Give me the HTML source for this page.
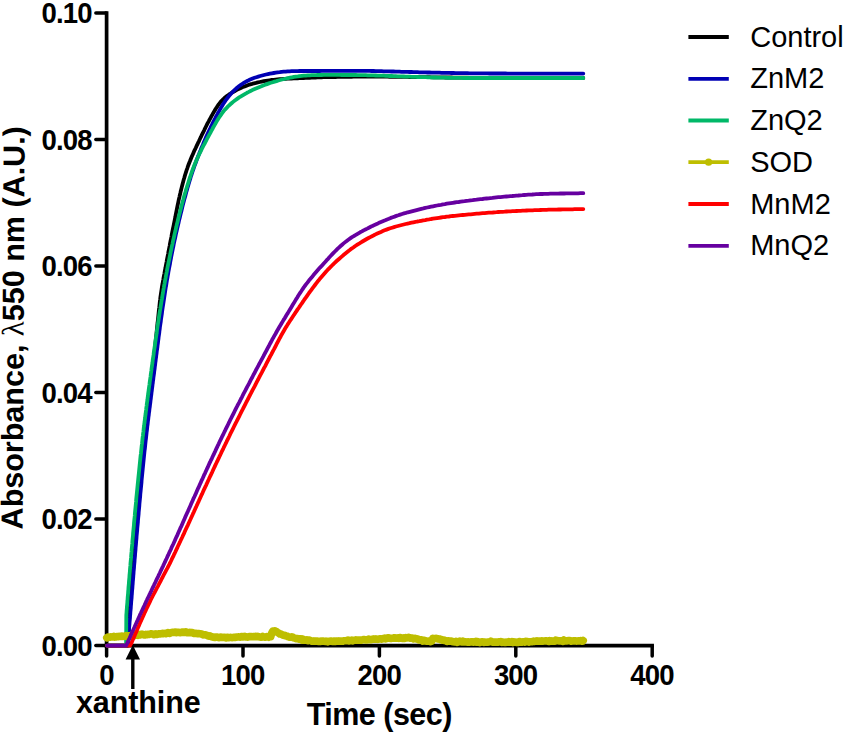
<!DOCTYPE html>
<html lang="en">
<head>
<meta charset="utf-8">
<title>Absorbance vs Time</title>
<style>
html,body{margin:0;padding:0;background:#ffffff;}
body{width:845px;height:732px;overflow:hidden;}
svg{display:block;}
</style>
</head>
<body>
<svg width="845" height="732" viewBox="0 0 845 732">
<rect x="0" y="0" width="845" height="732" fill="#ffffff"/>
<g stroke="#000" fill="none">
<path d="M106.60,11.25 L106.60,647.45" stroke-width="3.70"/>
<path d="M104.75,645.60 L653.95,645.60" stroke-width="3.70"/>
<g stroke-width="3.50" stroke-linecap="round">
<path d="M95.85,645.60 L106.10,645.60"/>
<path d="M95.85,519.08 L106.10,519.08"/>
<path d="M95.85,392.56 L106.10,392.56"/>
<path d="M95.85,266.04 L106.10,266.04"/>
<path d="M95.85,139.52 L106.10,139.52"/>
<path d="M95.85,13.00 L106.10,13.00"/>
<path d="M106.60,646.10 L106.60,655.95"/>
<path d="M243.00,646.10 L243.00,655.95"/>
<path d="M379.40,646.10 L379.40,655.95"/>
<path d="M515.80,646.10 L515.80,655.95"/>
<path d="M652.20,646.10 L652.20,655.95"/>
</g>
</g>
<path d="M107.1,645.6 L128.0,645.6 L128.1,643.6 L128.1,641.6 L128.2,639.6 L128.3,637.6 L128.4,635.6 L128.4,633.6 L128.5,631.6 L128.6,629.6 L128.6,627.6 L128.7,625.6 L128.8,623.6 L128.9,621.6 L129.0,619.6 L129.0,617.6 L129.1,615.6 L129.2,613.6 L129.3,611.6 L129.4,609.6 L129.5,607.6 L129.6,605.6 L129.7,603.6 L129.8,601.6 L129.9,599.6 L130.0,597.6 L130.1,595.6 L130.2,593.7 L130.3,591.7 L130.4,589.7 L130.5,587.7 L130.6,585.7 L130.8,583.7 L130.9,581.7 L131.0,579.7 L131.2,577.7 L131.3,575.7 L131.4,573.7 L131.6,571.7 L131.7,569.7 L131.9,567.7 L132.0,565.7 L132.2,563.7 L132.3,561.7 L132.5,559.7 L132.6,557.7 L132.8,555.8 L133.0,553.8 L133.1,551.8 L133.3,549.8 L133.5,547.8 L133.6,545.8 L133.8,543.8 L134.0,541.8 L134.2,539.8 L134.3,537.8 L134.5,535.8 L134.7,533.8 L134.9,531.8 L135.1,529.9 L135.2,527.9 L135.4,525.9 L135.6,523.9 L135.8,521.9 L136.0,519.9 L136.2,517.9 L136.4,515.9 L136.5,513.9 L136.7,511.9 L136.9,509.9 L137.1,507.9 L137.3,506.0 L137.5,504.0 L137.7,502.0 L137.9,500.0 L138.1,498.0 L138.2,496.0 L138.4,494.0 L138.6,492.0 L138.8,490.0 L139.0,488.0 L139.2,486.1 L139.4,484.1 L139.6,482.1 L139.8,480.1 L140.0,478.1 L140.2,476.1 L140.4,474.1 L140.6,472.1 L140.8,470.1 L141.0,468.1 L141.2,466.2 L141.4,464.2 L141.6,462.2 L141.9,460.2 L142.1,458.2 L142.3,456.2 L142.5,454.2 L142.7,452.2 L143.0,450.2 L143.2,448.3 L143.4,446.3 L143.6,444.3 L143.9,442.3 L144.1,440.3 L144.3,438.3 L144.6,436.3 L144.8,434.4 L145.0,432.4 L145.3,430.4 L145.5,428.4 L145.8,426.4 L146.0,424.4 L146.3,422.4 L146.5,420.5 L146.8,418.5 L147.0,416.5 L147.3,414.5 L147.5,412.5 L147.8,410.5 L148.0,408.6 L148.3,406.6 L148.5,404.6 L148.8,402.6 L149.0,400.6 L149.3,398.6 L149.5,396.7 L149.8,394.7 L150.0,392.7 L150.2,390.7 L150.5,388.7 L150.7,386.7 L151.0,384.7 L151.2,382.8 L151.4,380.8 L151.7,378.8 L151.9,376.8 L152.1,374.8 L152.3,372.8 L152.6,370.8 L152.8,368.9 L153.0,366.9 L153.2,364.9 L153.4,362.9 L153.6,360.9 L153.9,358.9 L154.1,356.9 L154.3,354.9 L154.5,352.9 L154.7,351.0 L154.9,349.0 L155.1,347.0 L155.3,345.0 L155.5,343.0 L155.7,341.0 L155.9,339.0 L156.1,337.0 L156.3,335.0 L156.5,333.1 L156.7,331.1 L156.9,329.1 L157.1,327.1 L157.3,325.1 L157.5,323.1 L157.8,321.1 L158.0,319.1 L158.2,317.1 L158.4,315.2 L158.6,313.2 L158.8,311.2 L159.0,309.2 L159.3,307.2 L159.5,305.2 L159.7,303.2 L159.9,301.3 L160.2,299.3 L160.4,297.3 L160.7,295.3 L161.0,293.3 L161.3,291.4 L161.6,289.4 L161.9,287.4 L162.2,285.4 L162.6,283.5 L162.9,281.5 L163.3,279.5 L163.6,277.6 L164.0,275.6 L164.4,273.6 L164.7,271.7 L165.1,269.7 L165.5,267.7 L165.8,265.8 L166.2,263.8 L166.6,261.8 L166.9,259.9 L167.3,257.9 L167.7,256.0 L168.1,254.0 L168.4,252.0 L168.8,250.1 L169.2,248.1 L169.6,246.1 L169.9,244.2 L170.3,242.2 L170.7,240.2 L171.1,238.3 L171.5,236.3 L171.8,234.4 L172.2,232.4 L172.6,230.4 L173.0,228.5 L173.4,226.5 L173.8,224.6 L174.2,222.6 L174.6,220.6 L175.0,218.7 L175.4,216.7 L175.7,214.8 L176.1,212.8 L176.5,210.8 L176.9,208.9 L177.3,206.9 L177.7,205.0 L178.1,203.0 L178.5,201.0 L178.9,199.1 L179.4,197.1 L179.8,195.2 L180.3,193.2 L180.7,191.3 L181.2,189.4 L181.7,187.4 L182.2,185.5 L182.7,183.6 L183.2,181.6 L183.7,179.7 L184.3,177.8 L184.8,175.9 L185.4,174.0 L186.0,172.1 L186.6,170.2 L187.3,168.3 L187.9,166.4 L188.6,164.5 L189.3,162.7 L190.1,160.8 L190.8,159.0 L191.6,157.1 L192.4,155.3 L193.2,153.5 L194.0,151.6 L194.8,149.8 L195.7,148.0 L196.5,146.2 L197.4,144.4 L198.2,142.6 L199.1,140.8 L199.9,139.0 L200.8,137.2 L201.6,135.4 L202.5,133.6 L203.4,131.8 L204.3,130.1 L205.1,128.3 L206.0,126.5 L206.9,124.7 L207.8,122.9 L208.8,121.2 L209.7,119.4 L210.7,117.6 L211.6,115.9 L212.6,114.2 L213.6,112.4 L214.6,110.7 L215.6,109.0 L216.7,107.4 L217.8,105.7 L218.9,104.1 L220.1,102.6 L221.4,101.1 L222.7,99.7 L224.2,98.3 L225.7,97.0 L227.2,95.8 L228.8,94.7 L230.5,93.6 L232.1,92.5 L233.9,91.5 L235.6,90.5 L237.3,89.6 L239.1,88.7 L240.9,87.9 L242.8,87.1 L244.6,86.4 L246.5,85.7 L248.3,85.0 L250.2,84.4 L252.1,83.9 L254.1,83.3 L256.0,82.9 L257.9,82.4 L259.9,82.0 L261.8,81.6 L263.8,81.2 L265.8,80.9 L267.7,80.6 L269.7,80.3 L271.7,80.0 L273.7,79.8 L275.6,79.6 L277.6,79.4 L279.6,79.2 L281.6,79.1 L283.6,78.9 L285.6,78.8 L287.6,78.7 L289.6,78.6 L291.6,78.5 L293.6,78.4 L295.6,78.3 L297.6,78.3 L299.6,78.2 L301.6,78.1 L303.6,78.0 L305.6,77.9 L307.6,77.8 L309.6,77.8 L311.6,77.7 L313.6,77.6 L315.5,77.5 L317.5,77.4 L319.5,77.4 L321.5,77.3 L323.5,77.2 L325.5,77.2 L327.5,77.1 L329.5,77.1 L331.5,77.0 L333.5,77.0 L335.5,77.0 L337.5,76.9 L339.5,76.9 L341.5,76.9 L343.5,76.8 L345.5,76.8 L347.5,76.8 L349.5,76.8 L351.5,76.8 L353.5,76.7 L355.5,76.7 L357.5,76.7 L359.5,76.7 L361.5,76.7 L363.5,76.7 L365.5,76.7 L367.5,76.7 L369.5,76.7 L371.5,76.7 L373.5,76.7 L375.5,76.7 L377.5,76.7 L379.5,76.7 L381.5,76.7 L383.5,76.7 L385.5,76.7 L387.5,76.7 L389.5,76.8 L391.5,76.8 L393.5,76.8 L395.5,76.8 L397.5,76.8 L399.5,76.8 L401.5,76.9 L403.5,76.9 L405.5,76.9 L407.5,76.9 L409.5,77.0 L411.5,77.0 L413.5,77.0 L415.5,77.0 L417.5,77.1 L419.5,77.1 L421.5,77.1 L423.5,77.1 L425.5,77.2 L427.5,77.2 L429.5,77.2 L431.5,77.3 L433.5,77.3 L435.5,77.3 L437.5,77.3 L439.5,77.4 L441.5,77.4 L443.5,77.4 L445.5,77.5 L447.5,77.5 L449.5,77.5 L451.5,77.5 L453.5,77.6 L455.5,77.6 L457.5,77.6 L459.5,77.7 L461.5,77.7 L463.5,77.7 L465.5,77.7 L467.5,77.7 L469.5,77.8 L471.5,77.8 L473.5,77.8 L475.5,77.8 L477.5,77.8 L479.5,77.8 L481.5,77.9 L483.5,77.9 L485.5,77.9 L487.5,77.9 L489.5,77.9 L491.5,77.9 L493.5,77.9 L495.5,77.9 L497.5,77.9 L499.5,77.9 L501.5,77.9 L503.5,78.0 L505.5,78.0 L507.5,78.0 L509.5,78.0 L511.5,78.0 L513.5,78.0 L515.5,78.0 L517.5,78.0 L519.5,78.0 L521.5,78.0 L523.5,78.0 L525.5,78.0 L527.5,78.0 L529.5,78.0 L531.5,78.0 L533.5,78.0 L535.5,78.0 L537.5,78.0 L539.5,78.0 L541.5,78.0 L543.5,78.0 L545.5,78.0 L547.5,78.0 L549.5,78.0 L551.5,78.0 L553.5,78.0 L555.5,78.0 L557.5,78.0 L559.5,78.0 L561.5,78.0 L563.5,78.0 L565.5,78.0 L567.5,78.0 L569.5,78.0 L571.5,78.0 L573.5,78.0 L575.5,78.0 L577.5,78.0 L579.5,78.0 L581.5,78.0 L583.3,78.0" fill="none" stroke="#000000" stroke-width="3.8" stroke-linejoin="round" stroke-linecap="round"/>
<path d="M107.1,645.6 L127.6,645.6 L127.8,643.6 L127.9,641.6 L128.1,639.6 L128.3,637.6 L128.5,635.6 L128.6,633.6 L128.8,631.7 L129.0,629.7 L129.1,627.7 L129.3,625.7 L129.5,623.7 L129.6,621.7 L129.8,619.7 L130.0,617.7 L130.1,615.7 L130.3,613.7 L130.4,611.7 L130.6,609.7 L130.8,607.7 L130.9,605.7 L131.1,603.8 L131.2,601.8 L131.4,599.8 L131.6,597.8 L131.7,595.8 L131.9,593.8 L132.0,591.8 L132.2,589.8 L132.4,587.8 L132.5,585.8 L132.7,583.8 L132.8,581.8 L133.0,579.8 L133.2,577.8 L133.3,575.8 L133.5,573.8 L133.6,571.9 L133.8,569.9 L134.0,567.9 L134.1,565.9 L134.3,563.9 L134.5,561.9 L134.6,559.9 L134.8,557.9 L135.0,555.9 L135.1,553.9 L135.3,551.9 L135.5,549.9 L135.6,547.9 L135.8,545.9 L136.0,543.9 L136.1,542.0 L136.3,540.0 L136.5,538.0 L136.6,536.0 L136.8,534.0 L137.0,532.0 L137.2,530.0 L137.3,528.0 L137.5,526.0 L137.7,524.0 L137.9,522.0 L138.0,520.0 L138.2,518.0 L138.4,516.1 L138.6,514.1 L138.7,512.1 L138.9,510.1 L139.1,508.1 L139.3,506.1 L139.4,504.1 L139.6,502.1 L139.8,500.1 L140.0,498.1 L140.2,496.1 L140.3,494.1 L140.5,492.2 L140.7,490.2 L140.9,488.2 L141.1,486.2 L141.3,484.2 L141.5,482.2 L141.6,480.2 L141.8,478.2 L142.0,476.2 L142.2,474.2 L142.4,472.2 L142.6,470.3 L142.8,468.3 L143.0,466.3 L143.2,464.3 L143.4,462.3 L143.6,460.3 L143.8,458.3 L144.0,456.3 L144.2,454.3 L144.4,452.3 L144.6,450.4 L144.9,448.4 L145.1,446.4 L145.3,444.4 L145.5,442.4 L145.7,440.4 L146.0,438.4 L146.2,436.4 L146.4,434.5 L146.6,432.5 L146.9,430.5 L147.1,428.5 L147.3,426.5 L147.6,424.5 L147.8,422.5 L148.0,420.6 L148.3,418.6 L148.5,416.6 L148.8,414.6 L149.0,412.6 L149.3,410.6 L149.5,408.6 L149.8,406.7 L150.0,404.7 L150.3,402.7 L150.5,400.7 L150.8,398.7 L151.0,396.7 L151.3,394.8 L151.5,392.8 L151.8,390.8 L152.0,388.8 L152.3,386.8 L152.5,384.8 L152.8,382.9 L153.0,380.9 L153.3,378.9 L153.5,376.9 L153.8,374.9 L154.1,372.9 L154.3,370.9 L154.6,369.0 L154.8,367.0 L155.1,365.0 L155.3,363.0 L155.6,361.0 L155.8,359.0 L156.1,357.1 L156.3,355.1 L156.6,353.1 L156.8,351.1 L157.1,349.1 L157.4,347.1 L157.6,345.2 L157.9,343.2 L158.1,341.2 L158.4,339.2 L158.6,337.2 L158.9,335.2 L159.2,333.3 L159.4,331.3 L159.7,329.3 L159.9,327.3 L160.2,325.3 L160.5,323.3 L160.8,321.4 L161.0,319.4 L161.3,317.4 L161.6,315.4 L161.9,313.4 L162.1,311.5 L162.4,309.5 L162.7,307.5 L163.0,305.5 L163.3,303.6 L163.6,301.6 L163.9,299.6 L164.2,297.6 L164.5,295.6 L164.8,293.7 L165.1,291.7 L165.4,289.7 L165.7,287.7 L166.1,285.8 L166.4,283.8 L166.7,281.8 L167.0,279.9 L167.4,277.9 L167.7,275.9 L168.1,273.9 L168.4,272.0 L168.8,270.0 L169.1,268.0 L169.5,266.1 L169.9,264.1 L170.2,262.1 L170.6,260.2 L171.0,258.2 L171.3,256.3 L171.7,254.3 L172.1,252.3 L172.5,250.4 L172.9,248.4 L173.3,246.5 L173.7,244.5 L174.1,242.5 L174.5,240.6 L175.0,238.6 L175.4,236.7 L175.8,234.7 L176.2,232.8 L176.7,230.8 L177.1,228.9 L177.6,226.9 L178.0,225.0 L178.5,223.0 L178.9,221.1 L179.4,219.1 L179.9,217.2 L180.3,215.3 L180.8,213.3 L181.3,211.4 L181.8,209.4 L182.2,207.5 L182.7,205.6 L183.2,203.6 L183.7,201.7 L184.2,199.8 L184.8,197.8 L185.3,195.9 L185.8,194.0 L186.3,192.0 L186.9,190.1 L187.4,188.2 L188.0,186.3 L188.5,184.4 L189.1,182.4 L189.7,180.5 L190.3,178.6 L190.8,176.7 L191.5,174.8 L192.1,172.9 L192.7,171.0 L193.4,169.1 L194.0,167.2 L194.7,165.4 L195.4,163.5 L196.1,161.6 L196.8,159.7 L197.5,157.9 L198.2,156.0 L199.0,154.2 L199.7,152.3 L200.5,150.5 L201.2,148.6 L202.0,146.8 L202.8,144.9 L203.5,143.1 L204.3,141.3 L205.1,139.4 L205.9,137.6 L206.7,135.8 L207.5,134.0 L208.4,132.2 L209.2,130.4 L210.1,128.6 L210.9,126.8 L211.8,125.0 L212.7,123.2 L213.6,121.4 L214.5,119.6 L215.4,117.9 L216.3,116.1 L217.3,114.4 L218.2,112.6 L219.2,110.9 L220.2,109.1 L221.2,107.4 L222.2,105.7 L223.2,104.0 L224.3,102.4 L225.4,100.7 L226.6,99.1 L227.8,97.5 L229.0,96.0 L230.3,94.5 L231.6,93.0 L233.0,91.6 L234.4,90.2 L235.9,88.8 L237.4,87.5 L238.9,86.3 L240.5,85.1 L242.1,84.0 L243.8,82.9 L245.5,81.9 L247.2,81.0 L249.0,80.1 L250.8,79.3 L252.6,78.5 L254.5,77.8 L256.4,77.2 L258.3,76.6 L260.2,76.0 L262.1,75.5 L264.0,75.0 L266.0,74.5 L267.9,74.1 L269.9,73.7 L271.8,73.3 L273.8,73.0 L275.8,72.7 L277.7,72.4 L279.7,72.2 L281.7,71.9 L283.7,71.7 L285.7,71.6 L287.6,71.4 L289.6,71.3 L291.6,71.2 L293.6,71.1 L295.6,71.1 L297.6,71.1 L299.6,71.0 L301.6,71.0 L303.6,71.0 L305.6,71.0 L307.6,71.0 L309.6,71.0 L311.6,71.0 L313.6,71.0 L315.6,71.0 L317.6,71.0 L319.6,71.0 L321.6,70.9 L323.6,70.9 L325.6,70.9 L327.6,70.9 L329.6,70.8 L331.6,70.8 L333.6,70.8 L335.6,70.8 L337.6,70.8 L339.6,70.8 L341.6,70.8 L343.6,70.8 L345.6,70.8 L347.6,70.8 L349.6,70.8 L351.6,70.8 L353.6,70.8 L355.6,70.8 L357.6,70.8 L359.6,70.8 L361.6,70.8 L363.6,70.8 L365.6,70.9 L367.6,70.9 L369.6,70.9 L371.6,71.0 L373.6,71.0 L375.6,71.1 L377.6,71.1 L379.6,71.2 L381.6,71.2 L383.6,71.3 L385.6,71.3 L387.5,71.4 L389.5,71.4 L391.5,71.5 L393.5,71.5 L395.5,71.6 L397.5,71.6 L399.5,71.7 L401.5,71.8 L403.5,71.8 L405.5,71.9 L407.5,71.9 L409.5,72.0 L411.5,72.0 L413.5,72.1 L415.5,72.1 L417.5,72.2 L419.5,72.3 L421.5,72.3 L423.5,72.4 L425.5,72.4 L427.5,72.5 L429.5,72.5 L431.5,72.6 L433.5,72.6 L435.5,72.7 L437.5,72.7 L439.5,72.7 L441.5,72.8 L443.5,72.8 L445.5,72.9 L447.5,72.9 L449.5,72.9 L451.5,73.0 L453.5,73.0 L455.5,73.1 L457.5,73.1 L459.5,73.1 L461.5,73.2 L463.5,73.2 L465.5,73.2 L467.5,73.2 L469.5,73.3 L471.5,73.3 L473.5,73.3 L475.5,73.3 L477.5,73.4 L479.5,73.4 L481.5,73.4 L483.5,73.4 L485.5,73.4 L487.5,73.4 L489.5,73.5 L491.5,73.5 L493.5,73.5 L495.5,73.5 L497.5,73.5 L499.5,73.5 L501.5,73.5 L503.5,73.5 L505.5,73.5 L507.5,73.6 L509.5,73.6 L511.5,73.6 L513.5,73.6 L515.5,73.6 L517.5,73.6 L519.5,73.6 L521.5,73.6 L523.5,73.6 L525.5,73.6 L527.5,73.6 L529.5,73.6 L531.5,73.6 L533.5,73.6 L535.5,73.6 L537.5,73.6 L539.5,73.6 L541.5,73.6 L543.5,73.6 L545.5,73.6 L547.5,73.6 L549.5,73.6 L551.5,73.6 L553.5,73.6 L555.5,73.6 L557.5,73.6 L559.5,73.6 L561.5,73.6 L563.5,73.6 L565.5,73.6 L567.5,73.6 L569.5,73.6 L571.5,73.6 L573.5,73.6 L575.5,73.6 L577.5,73.6 L579.5,73.6 L581.5,73.6 L583.3,73.6" fill="none" stroke="#0000b4" stroke-width="3.8" stroke-linejoin="round" stroke-linecap="round"/>
<path d="M107.1,645.6 L126.1,645.6 L126.3,615.0 L126.5,613.0 L126.6,611.0 L126.8,609.0 L126.9,607.0 L127.1,605.0 L127.3,603.0 L127.4,601.0 L127.6,599.1 L127.7,597.1 L127.9,595.1 L128.1,593.1 L128.2,591.1 L128.4,589.1 L128.5,587.1 L128.7,585.1 L128.9,583.1 L129.0,581.1 L129.2,579.1 L129.4,577.1 L129.5,575.1 L129.7,573.1 L129.9,571.1 L130.0,569.2 L130.2,567.2 L130.4,565.2 L130.5,563.2 L130.7,561.2 L130.9,559.2 L131.1,557.2 L131.2,555.2 L131.4,553.2 L131.6,551.2 L131.7,549.2 L131.9,547.2 L132.1,545.2 L132.3,543.2 L132.4,541.3 L132.6,539.3 L132.8,537.3 L133.0,535.3 L133.1,533.3 L133.3,531.3 L133.5,529.3 L133.7,527.3 L133.9,525.3 L134.0,523.3 L134.2,521.3 L134.4,519.3 L134.6,517.4 L134.8,515.4 L134.9,513.4 L135.1,511.4 L135.3,509.4 L135.5,507.4 L135.7,505.4 L135.9,503.4 L136.1,501.4 L136.2,499.4 L136.4,497.4 L136.6,495.4 L136.8,493.5 L137.0,491.5 L137.2,489.5 L137.4,487.5 L137.6,485.5 L137.8,483.5 L138.0,481.5 L138.2,479.5 L138.4,477.5 L138.6,475.5 L138.8,473.6 L139.0,471.6 L139.2,469.6 L139.4,467.6 L139.6,465.6 L139.8,463.6 L140.0,461.6 L140.2,459.6 L140.4,457.6 L140.6,455.7 L140.9,453.7 L141.1,451.7 L141.3,449.7 L141.5,447.7 L141.7,445.7 L142.0,443.7 L142.2,441.7 L142.4,439.8 L142.6,437.8 L142.9,435.8 L143.1,433.8 L143.4,431.8 L143.6,429.8 L143.8,427.8 L144.1,425.9 L144.3,423.9 L144.6,421.9 L144.8,419.9 L145.1,417.9 L145.3,415.9 L145.6,413.9 L145.8,412.0 L146.1,410.0 L146.3,408.0 L146.6,406.0 L146.8,404.0 L147.1,402.0 L147.4,400.1 L147.6,398.1 L147.9,396.1 L148.1,394.1 L148.4,392.1 L148.7,390.1 L148.9,388.2 L149.2,386.2 L149.5,384.2 L149.7,382.2 L150.0,380.2 L150.3,378.3 L150.6,376.3 L150.8,374.3 L151.1,372.3 L151.4,370.3 L151.6,368.3 L151.9,366.4 L152.2,364.4 L152.5,362.4 L152.7,360.4 L153.0,358.4 L153.3,356.5 L153.6,354.5 L153.8,352.5 L154.1,350.5 L154.4,348.5 L154.7,346.6 L155.0,344.6 L155.2,342.6 L155.5,340.6 L155.8,338.6 L156.1,336.7 L156.4,334.7 L156.7,332.7 L156.9,330.7 L157.2,328.7 L157.5,326.8 L157.8,324.8 L158.1,322.8 L158.4,320.8 L158.7,318.9 L159.0,316.9 L159.3,314.9 L159.6,312.9 L159.9,311.0 L160.3,309.0 L160.6,307.0 L160.9,305.0 L161.2,303.1 L161.5,301.1 L161.9,299.1 L162.2,297.1 L162.5,295.2 L162.9,293.2 L163.2,291.2 L163.5,289.3 L163.9,287.3 L164.2,285.3 L164.6,283.3 L164.9,281.4 L165.3,279.4 L165.7,277.4 L166.0,275.5 L166.4,273.5 L166.8,271.6 L167.1,269.6 L167.5,267.6 L167.9,265.7 L168.3,263.7 L168.7,261.7 L169.1,259.8 L169.5,257.8 L169.9,255.9 L170.3,253.9 L170.7,251.9 L171.1,250.0 L171.5,248.0 L171.9,246.1 L172.4,244.1 L172.8,242.2 L173.2,240.2 L173.7,238.3 L174.1,236.3 L174.5,234.4 L175.0,232.4 L175.5,230.5 L175.9,228.5 L176.4,226.6 L176.8,224.6 L177.3,222.7 L177.8,220.8 L178.2,218.8 L178.7,216.9 L179.2,214.9 L179.7,213.0 L180.2,211.1 L180.7,209.1 L181.2,207.2 L181.7,205.3 L182.2,203.3 L182.7,201.4 L183.3,199.5 L183.8,197.6 L184.3,195.6 L184.9,193.7 L185.5,191.8 L186.0,189.9 L186.6,188.0 L187.2,186.1 L187.8,184.2 L188.4,182.2 L189.0,180.3 L189.6,178.4 L190.2,176.6 L190.9,174.7 L191.5,172.8 L192.2,170.9 L192.9,169.0 L193.6,167.2 L194.3,165.3 L195.1,163.5 L195.9,161.6 L196.7,159.8 L197.5,158.0 L198.3,156.2 L199.2,154.3 L200.0,152.6 L200.9,150.8 L201.8,149.0 L202.7,147.2 L203.6,145.4 L204.6,143.7 L205.5,141.9 L206.4,140.1 L207.3,138.4 L208.3,136.6 L209.2,134.9 L210.2,133.1 L211.1,131.3 L212.1,129.6 L213.0,127.8 L214.0,126.1 L215.0,124.4 L216.0,122.6 L217.0,120.9 L218.0,119.2 L219.1,117.5 L220.2,115.9 L221.3,114.3 L222.5,112.7 L223.7,111.1 L225.0,109.6 L226.4,108.2 L227.7,106.7 L229.2,105.3 L230.6,104.0 L232.1,102.7 L233.7,101.4 L235.2,100.2 L236.8,99.1 L238.5,97.9 L240.1,96.8 L241.8,95.8 L243.5,94.8 L245.2,93.8 L247.0,92.8 L248.8,91.9 L250.5,91.0 L252.3,90.1 L254.1,89.3 L255.9,88.5 L257.8,87.7 L259.6,86.9 L261.4,86.2 L263.3,85.5 L265.1,84.8 L267.0,84.1 L268.9,83.4 L270.8,82.8 L272.7,82.2 L274.6,81.6 L276.5,81.1 L278.4,80.5 L280.3,80.0 L282.2,79.5 L284.2,79.0 L286.1,78.5 L288.1,78.1 L290.0,77.7 L292.0,77.3 L293.9,76.9 L295.9,76.6 L297.9,76.4 L299.8,76.1 L301.8,75.9 L303.8,75.7 L305.8,75.6 L307.8,75.4 L309.8,75.3 L311.8,75.2 L313.8,75.1 L315.7,75.1 L317.7,75.0 L319.7,75.0 L321.7,75.0 L323.7,74.9 L325.7,74.9 L327.7,74.9 L329.7,74.9 L331.7,74.9 L333.7,74.9 L335.7,74.9 L337.7,74.9 L339.7,74.9 L341.7,75.0 L343.7,75.0 L345.7,75.0 L347.7,75.0 L349.7,75.0 L351.7,75.0 L353.7,75.0 L355.7,75.0 L357.7,75.1 L359.7,75.1 L361.7,75.1 L363.7,75.2 L365.7,75.2 L367.7,75.3 L369.7,75.3 L371.7,75.4 L373.7,75.4 L375.7,75.5 L377.7,75.6 L379.7,75.6 L381.7,75.7 L383.7,75.7 L385.7,75.8 L387.7,75.9 L389.7,76.0 L391.7,76.0 L393.7,76.1 L395.7,76.2 L397.7,76.3 L399.7,76.3 L401.7,76.4 L403.7,76.5 L405.7,76.6 L407.7,76.6 L409.7,76.7 L411.7,76.8 L413.7,76.8 L415.7,76.9 L417.7,77.0 L419.7,77.1 L421.7,77.1 L423.7,77.2 L425.7,77.2 L427.7,77.3 L429.7,77.4 L431.7,77.4 L433.7,77.5 L435.6,77.5 L437.6,77.6 L439.6,77.6 L441.6,77.7 L443.6,77.7 L445.6,77.7 L447.6,77.8 L449.6,77.8 L451.6,77.8 L453.6,77.9 L455.6,77.9 L457.6,77.9 L459.6,77.9 L461.6,77.9 L463.6,78.0 L465.6,78.0 L467.6,78.0 L469.6,78.0 L471.6,78.0 L473.6,78.0 L475.6,78.0 L477.6,78.0 L479.6,78.0 L481.6,78.0 L483.6,78.0 L485.6,78.0 L487.6,78.0 L489.6,78.0 L491.6,78.0 L493.6,78.0 L495.6,78.0 L497.6,78.0 L499.6,78.0 L501.6,78.0 L503.6,78.0 L505.6,78.0 L507.6,78.0 L509.6,78.0 L511.6,78.0 L513.6,78.0 L515.6,78.0 L517.6,78.0 L519.6,78.0 L521.6,78.0 L523.6,78.0 L525.6,78.0 L527.6,78.0 L529.6,78.0 L531.6,78.0 L533.6,78.0 L535.6,78.0 L537.6,78.0 L539.6,78.0 L541.6,78.0 L543.6,78.0 L545.6,78.0 L547.6,78.0 L549.6,78.0 L551.6,78.0 L553.6,78.0 L555.6,78.0 L557.6,78.0 L559.6,78.0 L561.6,78.0 L563.6,78.0 L565.6,78.0 L567.6,78.0 L569.6,78.0 L571.6,78.0 L573.6,78.0 L575.6,78.0 L577.6,78.0 L579.6,78.0 L581.6,78.0 L583.3,78.0" fill="none" stroke="#00b868" stroke-width="3.8" stroke-linejoin="round" stroke-linecap="round"/>
<path d="M106.8,637.8 L107.8,637.1 L108.8,637.2 L109.8,637.3 L110.8,636.9 L111.8,637.0 L112.8,637.0 L113.8,636.4 L114.8,637.1 L115.8,636.9 L116.8,636.5 L117.8,636.6 L118.8,636.7 L119.8,636.4 L120.8,636.4 L121.8,636.0 L122.8,636.5 L123.8,636.3 L124.8,636.2 L125.8,635.7 L126.8,636.5 L127.8,636.0 L128.8,635.8 L129.8,636.4 L130.8,635.7 L131.8,635.2 L132.8,635.4 L133.8,634.8 L134.8,635.6 L135.8,635.1 L136.8,634.9 L137.8,635.3 L138.8,634.5 L139.8,635.0 L140.8,634.2 L141.8,634.5 L142.8,634.3 L143.8,635.0 L144.8,635.0 L145.8,634.4 L146.8,634.7 L147.8,634.3 L148.8,634.5 L149.8,634.1 L150.8,633.8 L151.8,633.7 L152.8,634.3 L153.8,634.7 L154.8,634.1 L155.8,633.9 L156.8,634.5 L157.8,634.0 L158.8,633.9 L159.8,633.9 L160.8,633.7 L161.8,633.6 L162.8,633.2 L163.8,633.6 L164.8,633.4 L165.8,633.7 L166.8,633.1 L167.8,632.6 L168.8,633.0 L169.8,633.4 L170.8,632.7 L171.8,632.5 L172.8,632.3 L173.8,632.2 L174.8,632.4 L175.8,632.1 L176.8,632.7 L177.8,632.2 L178.8,632.3 L179.8,632.6 L180.8,632.6 L181.8,632.1 L182.8,632.3 L183.8,632.5 L184.8,632.2 L185.8,631.8 L186.8,632.6 L187.8,632.7 L188.8,632.7 L189.8,632.4 L190.8,632.7 L191.8,632.6 L192.8,632.8 L193.8,633.4 L194.8,633.5 L195.8,633.4 L196.8,633.5 L197.8,633.7 L198.8,633.6 L199.8,633.7 L200.8,633.7 L201.8,634.1 L202.8,634.9 L203.8,634.8 L204.8,634.7 L205.8,635.0 L206.8,635.2 L207.8,635.8 L208.8,636.1 L209.8,635.8 L210.8,636.6 L211.8,636.5 L212.8,637.2 L213.8,637.0 L214.8,637.5 L215.8,637.0 L216.8,637.1 L217.8,637.3 L218.8,637.6 L219.8,637.5 L220.8,637.0 L221.8,637.5 L222.8,637.5 L223.8,637.4 L224.8,637.3 L225.8,638.0 L226.8,637.4 L227.8,637.2 L228.8,637.6 L229.8,637.5 L230.8,637.4 L231.8,637.6 L232.8,637.5 L233.8,637.4 L234.8,637.5 L235.8,637.3 L236.8,637.0 L237.8,637.0 L238.8,636.9 L239.8,637.1 L240.8,636.7 L241.8,636.5 L242.8,637.0 L243.8,636.6 L244.8,636.4 L245.8,637.0 L246.8,636.7 L247.8,637.1 L248.8,636.8 L249.8,636.6 L250.8,636.5 L251.8,636.7 L252.8,636.8 L253.8,636.6 L254.8,636.8 L255.8,636.4 L256.8,636.8 L257.8,636.3 L258.8,636.8 L259.8,637.0 L260.8,637.1 L261.8,637.3 L262.8,636.4 L263.8,637.0 L264.8,637.1 L265.8,637.1 L266.8,636.5 L267.8,636.9 L268.8,637.3 L269.8,636.4 L270.8,636.6 L271.8,632.8 L272.8,631.0 L273.8,631.2 L274.8,630.8 L275.8,631.2 L276.8,631.8 L277.8,632.7 L278.8,633.2 L279.8,634.0 L280.8,633.9 L281.8,634.5 L282.8,635.1 L283.8,635.4 L284.8,635.2 L285.8,636.0 L286.8,636.0 L287.8,636.5 L288.8,636.8 L289.8,637.3 L290.8,637.2 L291.8,636.9 L292.8,637.2 L293.8,638.0 L294.8,638.0 L295.8,638.6 L296.8,638.5 L297.8,638.5 L298.8,639.2 L299.8,638.8 L300.8,638.7 L301.8,640.0 L302.8,639.1 L303.8,640.0 L304.8,640.3 L305.8,640.2 L306.8,639.8 L307.8,640.7 L308.8,640.1 L309.8,640.3 L310.8,640.7 L311.8,641.1 L312.8,641.1 L313.8,641.3 L314.8,641.1 L315.8,641.2 L316.8,641.0 L317.8,641.2 L318.8,641.5 L319.8,641.2 L320.8,641.4 L321.8,641.1 L322.8,641.1 L323.8,641.3 L324.8,641.2 L325.8,641.5 L326.8,641.3 L327.8,641.8 L328.8,641.2 L329.8,641.2 L330.8,641.0 L331.8,641.3 L332.8,641.5 L333.8,641.0 L334.8,641.2 L335.8,641.4 L336.8,641.1 L337.8,641.0 L338.8,641.3 L339.8,641.1 L340.8,641.1 L341.8,641.3 L342.8,641.2 L343.8,640.8 L344.8,640.7 L345.8,640.8 L346.8,640.7 L347.8,640.1 L348.8,641.0 L349.8,640.6 L350.8,640.7 L351.8,640.1 L352.8,640.8 L353.8,640.2 L354.8,640.3 L355.8,639.8 L356.8,640.1 L357.8,640.1 L358.8,640.0 L359.8,640.1 L360.8,640.0 L361.8,640.2 L362.8,639.7 L363.8,639.5 L364.8,639.7 L365.8,639.9 L366.8,640.0 L367.8,639.8 L368.8,639.0 L369.8,639.6 L370.8,639.8 L371.8,639.4 L372.8,639.1 L373.8,639.3 L374.8,639.0 L375.8,639.3 L376.8,639.1 L377.8,639.4 L378.8,639.1 L379.8,638.7 L380.8,639.0 L381.8,639.1 L382.8,638.6 L383.8,638.6 L384.8,638.0 L385.8,638.8 L386.8,638.3 L387.8,637.9 L388.8,637.9 L389.8,638.3 L390.8,638.5 L391.8,638.2 L392.8,638.3 L393.8,637.8 L394.8,637.7 L395.8,638.3 L396.8,638.1 L397.8,637.9 L398.8,638.3 L399.8,637.6 L400.8,637.8 L401.8,638.2 L402.8,638.4 L403.8,637.8 L404.8,638.3 L405.8,637.6 L406.8,637.9 L407.8,637.8 L408.8,637.4 L409.8,638.0 L410.8,638.3 L411.8,638.1 L412.8,638.3 L413.8,638.9 L414.8,638.4 L415.8,638.5 L416.8,639.0 L417.8,639.1 L418.8,640.0 L419.8,639.9 L420.8,639.7 L421.8,639.9 L422.8,641.1 L423.8,640.3 L424.8,640.5 L425.8,641.0 L426.8,641.2 L427.8,641.3 L428.8,641.1 L429.8,641.1 L430.8,641.7 L431.8,641.2 L432.8,638.4 L433.8,638.8 L434.8,638.6 L435.8,638.4 L436.8,638.5 L437.8,638.9 L438.8,638.9 L439.8,639.1 L440.8,639.8 L441.8,639.6 L442.8,640.3 L443.8,640.0 L444.8,640.5 L445.8,640.7 L446.8,641.4 L447.8,640.8 L448.8,640.8 L449.8,641.1 L450.8,641.0 L451.8,641.2 L452.8,641.6 L453.8,641.7 L454.8,642.0 L455.8,641.4 L456.8,642.4 L457.8,642.3 L458.8,641.7 L459.8,641.1 L460.8,641.8 L461.8,641.9 L462.8,641.2 L463.8,641.9 L464.8,641.9 L465.8,641.7 L466.8,642.1 L467.8,642.3 L468.8,641.9 L469.8,642.1 L470.8,641.8 L471.8,641.8 L472.8,642.0 L473.8,642.2 L474.8,641.9 L475.8,641.4 L476.8,642.2 L477.8,641.6 L478.8,642.1 L479.8,642.6 L480.8,642.1 L481.8,641.7 L482.8,641.7 L483.8,642.4 L484.8,642.1 L485.8,642.2 L486.8,642.3 L487.8,642.1 L488.8,642.0 L489.8,641.8 L490.8,641.2 L491.8,641.7 L492.8,642.1 L493.8,642.0 L494.8,642.2 L495.8,642.1 L496.8,642.1 L497.8,642.3 L498.8,641.9 L499.8,642.0 L500.8,641.6 L501.8,642.4 L502.8,642.1 L503.8,642.2 L504.8,642.5 L505.8,642.4 L506.8,642.1 L507.8,642.3 L508.8,641.7 L509.8,642.2 L510.8,642.1 L511.8,641.6 L512.8,642.5 L513.8,641.9 L514.8,642.3 L515.8,642.0 L516.8,642.4 L517.8,642.4 L518.8,641.8 L519.8,641.6 L520.8,642.0 L521.8,642.3 L522.8,641.9 L523.8,641.9 L524.8,642.2 L525.8,641.3 L526.8,641.8 L527.8,641.6 L528.8,642.1 L529.8,641.8 L530.8,641.7 L531.8,641.8 L532.8,641.3 L533.8,641.5 L534.8,641.2 L535.8,641.1 L536.8,640.9 L537.8,641.3 L538.8,641.0 L539.8,641.1 L540.8,641.1 L541.8,640.7 L542.8,641.1 L543.8,641.0 L544.8,641.0 L545.8,640.8 L546.8,640.8 L547.8,641.1 L548.8,641.5 L549.8,640.7 L550.8,641.1 L551.8,640.8 L552.8,641.1 L553.8,641.0 L554.8,641.2 L555.8,640.1 L556.8,640.7 L557.8,640.6 L558.8,640.9 L559.8,640.7 L560.8,640.7 L561.8,641.1 L562.8,641.4 L563.8,640.1 L564.8,640.8 L565.8,641.0 L566.8,640.9 L567.8,640.8 L568.8,640.5 L569.8,640.6 L570.8,641.1 L571.8,641.2 L572.8,640.9 L573.8,640.7 L574.8,640.9 L575.8,640.8 L576.8,641.1 L577.8,640.9 L578.8,640.7 L579.8,641.0 L580.8,640.6 L581.8,641.1 L582.8,641.2 L583.2,640.6" fill="none" stroke="#bebe00" stroke-width="7.6" stroke-linejoin="round" stroke-linecap="round"/>
<path d="M107.1,645.6 L130.3,645.6 L131.1,643.8 L131.9,641.9 L132.7,640.1 L133.5,638.3 L134.3,636.4 L135.1,634.6 L135.9,632.8 L136.7,630.9 L137.4,629.1 L138.2,627.3 L139.0,625.4 L139.8,623.6 L140.6,621.8 L141.4,619.9 L142.3,618.1 L143.1,616.3 L143.9,614.5 L144.7,612.6 L145.6,610.8 L146.4,609.0 L147.3,607.2 L148.1,605.4 L149.0,603.6 L149.9,601.8 L150.7,600.0 L151.6,598.2 L152.5,596.4 L153.4,594.7 L154.4,592.9 L155.3,591.1 L156.2,589.3 L157.1,587.6 L158.1,585.8 L159.0,584.0 L159.9,582.3 L160.9,580.5 L161.8,578.7 L162.7,577.0 L163.6,575.2 L164.6,573.4 L165.5,571.7 L166.4,569.9 L167.4,568.1 L168.3,566.3 L169.2,564.6 L170.1,562.8 L171.0,561.0 L171.8,559.2 L172.7,557.4 L173.6,555.6 L174.4,553.8 L175.3,552.0 L176.1,550.2 L177.0,548.4 L177.8,546.5 L178.7,544.7 L179.5,542.9 L180.4,541.1 L181.2,539.3 L182.1,537.5 L182.9,535.7 L183.8,533.9 L184.6,532.1 L185.4,530.2 L186.3,528.4 L187.1,526.6 L188.0,524.8 L188.8,523.0 L189.6,521.2 L190.5,519.3 L191.3,517.5 L192.1,515.7 L192.9,513.9 L193.8,512.1 L194.6,510.2 L195.4,508.4 L196.3,506.6 L197.1,504.8 L197.9,503.0 L198.8,501.1 L199.6,499.3 L200.4,497.5 L201.2,495.7 L202.1,493.9 L202.9,492.1 L203.7,490.2 L204.6,488.4 L205.4,486.6 L206.3,484.8 L207.1,483.0 L207.9,481.2 L208.8,479.3 L209.6,477.5 L210.5,475.7 L211.3,473.9 L212.2,472.1 L213.0,470.3 L213.8,468.5 L214.7,466.7 L215.5,464.8 L216.4,463.0 L217.3,461.2 L218.1,459.4 L219.0,457.6 L219.8,455.8 L220.7,454.0 L221.5,452.2 L222.4,450.4 L223.3,448.6 L224.1,446.8 L225.0,445.0 L225.9,443.2 L226.7,441.4 L227.6,439.6 L228.5,437.8 L229.4,436.0 L230.2,434.2 L231.1,432.4 L232.0,430.6 L232.9,428.8 L233.8,427.0 L234.7,425.2 L235.6,423.4 L236.5,421.7 L237.4,419.9 L238.3,418.1 L239.2,416.3 L240.1,414.5 L241.0,412.7 L241.9,410.9 L242.8,409.2 L243.7,407.4 L244.6,405.6 L245.5,403.8 L246.4,402.0 L247.3,400.3 L248.3,398.5 L249.2,396.7 L250.1,394.9 L251.0,393.2 L251.9,391.4 L252.8,389.6 L253.8,387.8 L254.7,386.1 L255.6,384.3 L256.5,382.5 L257.5,380.7 L258.4,379.0 L259.3,377.2 L260.2,375.4 L261.2,373.6 L262.1,371.9 L263.0,370.1 L263.9,368.3 L264.9,366.6 L265.8,364.8 L266.7,363.0 L267.7,361.2 L268.6,359.5 L269.5,357.7 L270.4,355.9 L271.4,354.2 L272.3,352.4 L273.2,350.6 L274.2,348.9 L275.1,347.1 L276.0,345.3 L276.9,343.5 L277.8,341.8 L278.8,340.0 L279.7,338.2 L280.7,336.5 L281.6,334.7 L282.6,333.0 L283.6,331.3 L284.6,329.5 L285.6,327.8 L286.7,326.1 L287.7,324.4 L288.8,322.7 L289.9,321.0 L291.0,319.4 L292.1,317.7 L293.2,316.0 L294.3,314.4 L295.4,312.7 L296.5,311.1 L297.6,309.4 L298.8,307.8 L299.9,306.1 L301.0,304.5 L302.2,302.8 L303.3,301.2 L304.4,299.5 L305.6,297.9 L306.7,296.3 L307.9,294.6 L309.0,293.0 L310.2,291.4 L311.4,289.8 L312.6,288.2 L313.8,286.6 L315.0,285.0 L316.2,283.4 L317.4,281.8 L318.7,280.3 L319.9,278.7 L321.2,277.2 L322.5,275.7 L323.8,274.2 L325.1,272.7 L326.4,271.2 L327.8,269.7 L329.2,268.3 L330.6,266.9 L332.0,265.5 L333.4,264.1 L334.9,262.7 L336.3,261.3 L337.8,260.0 L339.3,258.7 L340.8,257.4 L342.3,256.1 L343.8,254.8 L345.4,253.5 L346.9,252.3 L348.5,251.0 L350.1,249.8 L351.6,248.6 L353.3,247.5 L354.9,246.3 L356.5,245.2 L358.2,244.1 L359.9,243.1 L361.6,242.0 L363.3,241.0 L365.0,240.0 L366.7,239.0 L368.5,238.0 L370.2,237.1 L372.0,236.2 L373.8,235.3 L375.5,234.4 L377.3,233.5 L379.1,232.7 L381.0,231.9 L382.8,231.1 L384.6,230.3 L386.5,229.6 L388.4,228.9 L390.2,228.3 L392.1,227.7 L394.0,227.1 L395.9,226.5 L397.9,226.0 L399.8,225.5 L401.7,225.0 L403.7,224.5 L405.6,224.0 L407.6,223.6 L409.5,223.2 L411.5,222.7 L413.4,222.3 L415.4,221.9 L417.3,221.5 L419.3,221.2 L421.2,220.8 L423.2,220.4 L425.2,220.1 L427.1,219.7 L429.1,219.4 L431.1,219.0 L433.0,218.7 L435.0,218.4 L437.0,218.1 L439.0,217.8 L440.9,217.5 L442.9,217.2 L444.9,217.0 L446.9,216.7 L448.9,216.5 L450.9,216.2 L452.8,216.0 L454.8,215.8 L456.8,215.6 L458.8,215.4 L460.8,215.2 L462.8,215.0 L464.8,214.8 L466.8,214.6 L468.8,214.4 L470.7,214.3 L472.7,214.1 L474.7,213.9 L476.7,213.7 L478.7,213.6 L480.7,213.4 L482.7,213.2 L484.7,213.1 L486.7,212.9 L488.7,212.7 L490.7,212.6 L492.7,212.5 L494.6,212.3 L496.6,212.2 L498.6,212.0 L500.6,211.9 L502.6,211.8 L504.6,211.7 L506.6,211.5 L508.6,211.4 L510.6,211.3 L512.6,211.2 L514.6,211.1 L516.6,211.0 L518.6,210.9 L520.6,210.8 L522.6,210.7 L524.6,210.6 L526.6,210.5 L528.6,210.4 L530.6,210.3 L532.6,210.3 L534.6,210.2 L536.6,210.1 L538.6,210.1 L540.6,210.0 L542.6,209.9 L544.6,209.9 L546.6,209.8 L548.6,209.7 L550.6,209.7 L552.6,209.6 L554.6,209.6 L556.6,209.6 L558.6,209.5 L560.6,209.5 L562.6,209.4 L564.6,209.4 L566.6,209.4 L568.6,209.3 L570.6,209.3 L572.6,209.3 L574.6,209.2 L576.6,209.2 L578.6,209.2 L580.6,209.1 L582.6,209.1 L583.3,209.1" fill="none" stroke="#ff0000" stroke-width="3.8" stroke-linejoin="round" stroke-linecap="round"/>
<path d="M107.1,645.6 L126.2,645.6 L127.0,643.8 L127.8,641.9 L128.6,640.1 L129.5,638.3 L130.3,636.5 L131.1,634.6 L131.9,632.8 L132.7,631.0 L133.5,629.2 L134.4,627.3 L135.2,625.5 L136.0,623.7 L136.8,621.9 L137.7,620.1 L138.5,618.2 L139.3,616.4 L140.1,614.6 L141.0,612.8 L141.8,611.0 L142.7,609.2 L143.5,607.3 L144.4,605.5 L145.2,603.7 L146.0,601.9 L146.9,600.1 L147.7,598.3 L148.6,596.5 L149.5,594.7 L150.3,592.9 L151.2,591.1 L152.0,589.3 L152.9,587.4 L153.8,585.6 L154.6,583.8 L155.5,582.0 L156.3,580.2 L157.2,578.4 L158.1,576.6 L158.9,574.8 L159.8,573.0 L160.6,571.2 L161.5,569.4 L162.3,567.6 L163.2,565.8 L164.0,564.0 L164.9,562.2 L165.7,560.3 L166.6,558.5 L167.4,556.7 L168.3,554.9 L169.1,553.1 L169.9,551.3 L170.8,549.5 L171.6,547.6 L172.4,545.8 L173.3,544.0 L174.1,542.2 L174.9,540.4 L175.7,538.5 L176.6,536.7 L177.4,534.9 L178.2,533.1 L179.0,531.2 L179.8,529.4 L180.6,527.6 L181.5,525.8 L182.3,523.9 L183.1,522.1 L183.9,520.3 L184.7,518.5 L185.5,516.6 L186.3,514.8 L187.1,513.0 L188.0,511.1 L188.8,509.3 L189.6,507.5 L190.4,505.7 L191.2,503.8 L192.0,502.0 L192.8,500.2 L193.6,498.3 L194.5,496.5 L195.3,494.7 L196.1,492.9 L196.9,491.0 L197.7,489.2 L198.6,487.4 L199.4,485.6 L200.2,483.8 L201.0,481.9 L201.8,480.1 L202.7,478.3 L203.5,476.5 L204.3,474.6 L205.2,472.8 L206.0,471.0 L206.8,469.2 L207.7,467.4 L208.5,465.6 L209.3,463.7 L210.2,461.9 L211.0,460.1 L211.9,458.3 L212.7,456.5 L213.6,454.7 L214.4,452.9 L215.3,451.1 L216.1,449.2 L217.0,447.4 L217.8,445.6 L218.7,443.8 L219.5,442.0 L220.4,440.2 L221.3,438.4 L222.1,436.6 L223.0,434.8 L223.9,433.0 L224.8,431.2 L225.6,429.4 L226.5,427.6 L227.4,425.8 L228.3,424.0 L229.2,422.2 L230.0,420.4 L230.9,418.7 L231.8,416.9 L232.7,415.1 L233.6,413.3 L234.5,411.5 L235.4,409.7 L236.3,407.9 L237.2,406.2 L238.1,404.4 L239.1,402.6 L240.0,400.8 L240.9,399.0 L241.8,397.3 L242.7,395.5 L243.6,393.7 L244.6,391.9 L245.5,390.2 L246.4,388.4 L247.3,386.6 L248.3,384.8 L249.2,383.1 L250.1,381.3 L251.0,379.5 L252.0,377.8 L252.9,376.0 L253.8,374.2 L254.8,372.5 L255.7,370.7 L256.6,368.9 L257.6,367.1 L258.5,365.4 L259.4,363.6 L260.4,361.8 L261.3,360.1 L262.3,358.3 L263.2,356.6 L264.1,354.8 L265.1,353.0 L266.0,351.3 L267.0,349.5 L267.9,347.7 L268.9,346.0 L269.8,344.2 L270.7,342.5 L271.7,340.7 L272.6,338.9 L273.6,337.2 L274.6,335.4 L275.6,333.7 L276.5,332.0 L277.5,330.2 L278.5,328.5 L279.5,326.8 L280.6,325.0 L281.6,323.3 L282.6,321.6 L283.6,319.9 L284.7,318.2 L285.7,316.5 L286.7,314.8 L287.8,313.1 L288.8,311.4 L289.8,309.7 L290.9,307.9 L291.9,306.2 L292.9,304.5 L294.0,302.8 L295.0,301.1 L296.0,299.4 L297.1,297.7 L298.1,296.0 L299.2,294.3 L300.3,292.6 L301.4,291.0 L302.5,289.3 L303.6,287.7 L304.8,286.0 L306.0,284.4 L307.2,282.9 L308.4,281.3 L309.6,279.7 L310.9,278.2 L312.2,276.7 L313.5,275.1 L314.8,273.6 L316.1,272.1 L317.4,270.6 L318.7,269.1 L320.0,267.6 L321.4,266.2 L322.7,264.7 L324.0,263.2 L325.4,261.7 L326.7,260.2 L328.1,258.8 L329.4,257.3 L330.8,255.8 L332.1,254.4 L333.5,252.9 L334.9,251.5 L336.3,250.1 L337.7,248.7 L339.2,247.3 L340.6,246.0 L342.1,244.7 L343.6,243.4 L345.2,242.1 L346.7,240.9 L348.3,239.7 L349.9,238.6 L351.6,237.4 L353.3,236.4 L355.0,235.3 L356.7,234.3 L358.4,233.3 L360.1,232.3 L361.9,231.4 L363.6,230.4 L365.4,229.5 L367.2,228.6 L368.9,227.7 L370.7,226.8 L372.5,225.9 L374.3,225.1 L376.1,224.2 L377.9,223.4 L379.7,222.5 L381.6,221.7 L383.4,220.9 L385.2,220.2 L387.1,219.4 L388.9,218.7 L390.8,217.9 L392.7,217.2 L394.5,216.6 L396.4,215.9 L398.3,215.3 L400.2,214.6 L402.1,214.0 L404.0,213.4 L405.9,212.9 L407.8,212.3 L409.8,211.8 L411.7,211.3 L413.6,210.8 L415.6,210.3 L417.5,209.8 L419.4,209.3 L421.4,208.8 L423.3,208.4 L425.3,207.9 L427.2,207.5 L429.2,207.1 L431.1,206.7 L433.1,206.3 L435.0,205.9 L437.0,205.5 L439.0,205.1 L440.9,204.8 L442.9,204.4 L444.9,204.1 L446.8,203.7 L448.8,203.4 L450.8,203.1 L452.8,202.8 L454.7,202.5 L456.7,202.2 L458.7,202.0 L460.7,201.7 L462.7,201.4 L464.6,201.2 L466.6,200.9 L468.6,200.7 L470.6,200.4 L472.6,200.2 L474.5,199.9 L476.5,199.7 L478.5,199.4 L480.5,199.2 L482.5,199.0 L484.5,198.7 L486.5,198.5 L488.4,198.3 L490.4,198.1 L492.4,197.9 L494.4,197.6 L496.4,197.4 L498.4,197.2 L500.4,197.1 L502.4,196.9 L504.4,196.7 L506.3,196.5 L508.3,196.3 L510.3,196.1 L512.3,196.0 L514.3,195.8 L516.3,195.6 L518.3,195.5 L520.3,195.3 L522.3,195.2 L524.3,195.0 L526.3,194.9 L528.3,194.7 L530.2,194.6 L532.2,194.5 L534.2,194.3 L536.2,194.2 L538.2,194.1 L540.2,194.0 L542.2,194.0 L544.2,193.9 L546.2,193.8 L548.2,193.8 L550.2,193.7 L552.2,193.7 L554.2,193.6 L556.2,193.6 L558.2,193.6 L560.2,193.5 L562.2,193.5 L564.2,193.5 L566.2,193.4 L568.2,193.4 L570.2,193.4 L572.2,193.3 L574.2,193.3 L576.2,193.3 L578.2,193.3 L580.2,193.2 L582.2,193.2 L583.3,193.2" fill="none" stroke="#6600a0" stroke-width="3.8" stroke-linejoin="round" stroke-linecap="round"/>
<path d="M132.8,655.0 L132.8,689.0" stroke="#000" stroke-width="3.4" fill="none"/>
<path d="M132.8,645.0 L125.6,659.4 L140.0,659.4 Z" fill="#000"/>
<g font-family="Liberation Sans, Arial, Helvetica, sans-serif" font-weight="bold" font-size="29px" letter-spacing="-0.9" fill="#000" text-anchor="end">
<text transform="translate(91.6,655.6) scale(0.95,1)">0.00</text>
<text transform="translate(91.6,529.1) scale(0.95,1)">0.02</text>
<text transform="translate(91.6,402.6) scale(0.95,1)">0.04</text>
<text transform="translate(91.6,276.0) scale(0.95,1)">0.06</text>
<text transform="translate(91.6,149.5) scale(0.95,1)">0.08</text>
<text transform="translate(91.6,23.0) scale(0.95,1)">0.10</text>
</g>
<g font-family="Liberation Sans, Arial, Helvetica, sans-serif" font-weight="bold" font-size="29px" letter-spacing="-0.9" fill="#000" text-anchor="middle">
<text transform="translate(106.4,685.4) scale(0.95,1)">0</text>
<text transform="translate(242.8,685.4) scale(0.95,1)">100</text>
<text transform="translate(379.2,685.4) scale(0.95,1)">200</text>
<text transform="translate(515.6,685.4) scale(0.95,1)">300</text>
<text transform="translate(652.0,685.4) scale(0.95,1)">400</text>
</g>
<text font-family="Liberation Sans, Arial, Helvetica, sans-serif" font-weight="bold" font-size="30.5px" fill="#000" x="379.3" y="724.8" text-anchor="middle" letter-spacing="-0.5">Time (sec)</text>
<text font-family="Liberation Sans, Arial, Helvetica, sans-serif" font-weight="bold" font-size="30.5px" fill="#000" x="138.3" y="713.2" text-anchor="middle" letter-spacing="-0.1">xanthine</text>
<text font-family="Liberation Sans, Arial, Helvetica, sans-serif" font-weight="bold" font-size="30.5px" fill="#000" transform="translate(23.6,327.8) rotate(-89.72)" text-anchor="middle">Absorbance, <tspan font-family="Liberation Serif, Times New Roman, serif" font-weight="normal" font-size="31px">λ</tspan>550 nm (A.U.)</text>
<path d="M688.4,37.0 L728.8,37.0" stroke="#000000" stroke-width="3.8" fill="none"/>
<text font-family="Liberation Sans, Arial, Helvetica, sans-serif" font-size="29px" fill="#000" x="750.2" y="46.5">Control</text>
<path d="M688.4,78.8 L728.8,78.8" stroke="#0000b4" stroke-width="3.8" fill="none"/>
<text font-family="Liberation Sans, Arial, Helvetica, sans-serif" font-size="29px" fill="#000" x="750.2" y="88.2">ZnM2</text>
<path d="M688.4,120.5 L728.8,120.5" stroke="#00b868" stroke-width="3.8" fill="none"/>
<text font-family="Liberation Sans, Arial, Helvetica, sans-serif" font-size="29px" fill="#000" x="750.2" y="130.0">ZnQ2</text>
<path d="M688.4,162.2 L728.8,162.2" stroke="#bebe00" stroke-width="3.8" fill="none"/>
<circle cx="708.6" cy="162.2" r="3.6" fill="#bebe00"/>
<text font-family="Liberation Sans, Arial, Helvetica, sans-serif" font-size="29px" fill="#000" x="750.2" y="171.8">SOD</text>
<path d="M688.4,204.0 L728.8,204.0" stroke="#ff0000" stroke-width="3.8" fill="none"/>
<text font-family="Liberation Sans, Arial, Helvetica, sans-serif" font-size="29px" fill="#000" x="750.2" y="213.5">MnM2</text>
<path d="M688.4,245.8 L728.8,245.8" stroke="#6600a0" stroke-width="3.8" fill="none"/>
<text font-family="Liberation Sans, Arial, Helvetica, sans-serif" font-size="29px" fill="#000" x="750.2" y="255.2">MnQ2</text>
</svg>
</body>
</html>
